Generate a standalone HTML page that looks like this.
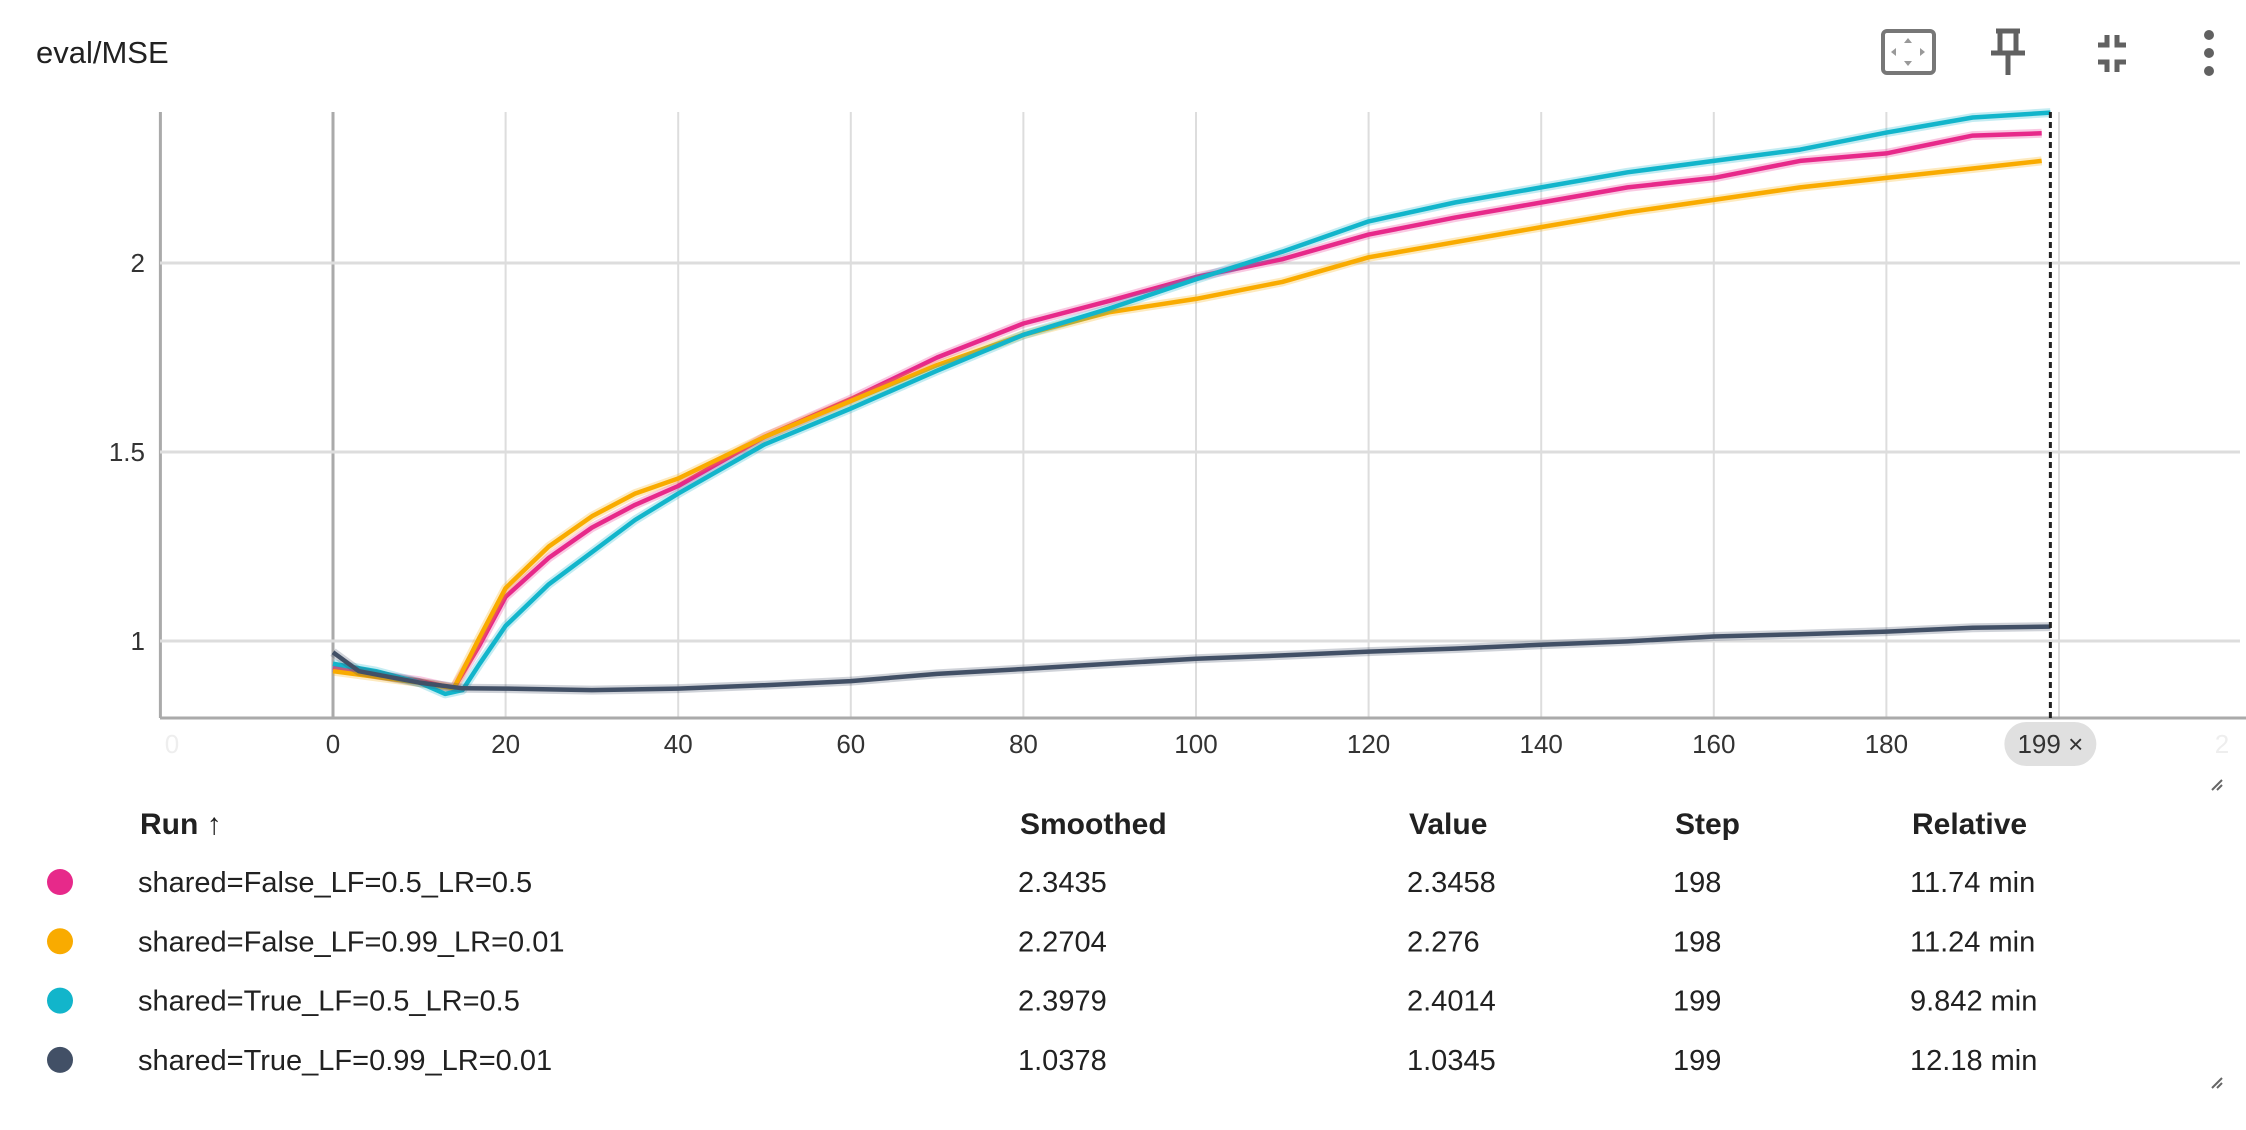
<!DOCTYPE html>
<html><head><meta charset="utf-8"><style>
body{margin:0;width:2246px;height:1130px;background:#fff;overflow:hidden;font-family:"Liberation Sans",sans-serif;color:#212121}
svg{position:absolute;left:0;top:0}
</style></head><body>
<svg id="chart" width="2246" height="1130" xmlns="http://www.w3.org/2000/svg">
<text x="36" y="63" font-size="31" fill="#212121">eval/MSE</text>
<g><rect x="1883" y="31" width="51" height="42" rx="4" fill="none" stroke="#777" stroke-width="4"/><path d="M1908 38l-4 5h8zM1908 66l-4-5h8zM1891 52l5-4v8zM1925 52l-5-4v8z" fill="#999"/></g>
<g fill="none" stroke="#616161" stroke-width="5"><path d="M1996 31h24M2000 31v20M2016 31v20M1991 53h34M2008 53v22"/></g>
<g fill="none" stroke="#616161" stroke-width="5"><path d="M2098 45h9v-10M2117 35v10h9M2098 62h9v10M2117 72v-10h9"/></g>
<g fill="#616161"><circle cx="2209" cy="35" r="5"/><circle cx="2209" cy="53" r="5"/><circle cx="2209" cy="71" r="5"/></g>
<g id="grid"></g><g id="lines"></g><g id="axes"></g>
<g font-size="30" font-weight="bold" fill="#212121">
<text x="140" y="834">Run ↑</text>
<text x="1020" y="834">Smoothed</text>
<text x="1409" y="834">Value</text>
<text x="1675" y="834">Step</text>
<text x="1912" y="834">Relative</text>
</g>
<g id="rows" font-size="29" fill="#212121"></g>
<path d="M2212 790l10-10M2217 790l5-5M2212 1088l10-10M2217 1088l5-5" stroke="#666" stroke-width="2"/>
</svg>
<script>
const NS="http://www.w3.org/2000/svg";
const steps=[0,5,10,14,17,20,25,30,35,40,50,60,70,80,90,100,110,120,130,140,150,160,170,180,190,198];
const pinkVals=[0.93,0.91,0.895,0.875,0.99,1.117,1.22,1.30,1.36,1.41,1.54,1.64,1.75,1.84,1.90,1.963,2.01,2.075,2.12,2.16,2.20,2.225,2.27,2.29,2.337,2.343];
const orangeVals=[0.92,0.905,0.89,0.875,1.01,1.14,1.25,1.33,1.39,1.43,1.54,1.635,1.73,1.81,1.87,1.905,1.95,2.015,2.055,2.095,2.134,2.167,2.2,2.225,2.25,2.27];
const cyanSteps=[0,5,10,13,15,17,20,25,30,35,40,50,60,70,80,90,100,110,120,130,140,150,160,170,180,190,199];
const cyanVals=[0.94,0.92,0.89,0.86,0.87,0.94,1.04,1.15,1.235,1.32,1.39,1.52,1.615,1.715,1.81,1.88,1.957,2.03,2.11,2.16,2.2,2.24,2.27,2.30,2.345,2.385,2.398];
const darkSteps=[0,3,10,15,20,30,40,50,60,70,80,90,100,110,120,130,140,150,160,170,180,190,199];
const darkVals=[0.97,0.92,0.89,0.875,0.874,0.87,0.874,0.883,0.894,0.913,0.926,0.94,0.953,0.962,0.972,0.98,0.99,0.999,1.012,1.018,1.025,1.035,1.038];
const xTicks=[0,20,40,60,80,100,120,140,160,180];
const yTicks=[1,1.5,2];
const runNames=["shared=False_LF=0.5_LR=0.5","shared=False_LF=0.99_LR=0.01","shared=True_LF=0.5_LR=0.5","shared=True_LF=0.99_LR=0.01"];
const smoothed=["2.3435","2.2704","2.3979","1.0378"];
const values=["2.3458","2.276","2.4014","1.0345"];
const stepCol=["198","198","199","199"];
const relative=["11.74 min","11.24 min","9.842 min","12.18 min"];
const colors=["#e7298a","#f9ab00","#12b5cb","#425066"];
const TOP=112, BOT=718;
const X=s=>333+s*8.63, Y=v=>641-(v-1)*378;
const g=document.getElementById('grid'),L=document.getElementById('lines'),A=document.getElementById('axes'),R=document.getElementById('rows');
function mk(t,a,p){const e=document.createElementNS(NS,t);for(const k in a)e.setAttribute(k,a[k]);p.appendChild(e);return e;}
[-20,...xTicks,200].forEach(s=>{const l=mk('line',{x1:X(s),x2:X(s),y1:TOP,y2:BOT,stroke:s===-20||s===0?'#aaa':'#ddd','stroke-width':s===-20||s===0?3:2},g);
});
yTicks.forEach(v=>{const l=mk('line',{x1:160,x2:2240,y1:Y(v),y2:Y(v),stroke:'#ddd','stroke-width':3},g);

const t=mk('text',{x:145,y:Y(v)+9,'text-anchor':'end','font-size':26,fill:'#333'},A);t.textContent=String(v);
});
const ax=mk('line',{x1:160,x2:2246,y1:BOT,y2:BOT,stroke:'#aaa','stroke-width':3},A);

xTicks.forEach(s=>{const t=mk('text',{x:X(s),y:753,'text-anchor':'middle','font-size':26,fill:'#333'},A);t.textContent=String(s);
});
[[-20,'0'],[220,'2']].forEach(([s,tx])=>{const t=mk('text',{x:s<0?172:2222,y:753,'text-anchor':'middle','font-size':26,fill:'#eee'},A);t.textContent=tx;
});
const series=[[steps,pinkVals],[steps,orangeVals],[cyanSteps,cyanVals],[darkSteps,darkVals]];
series.forEach(([ss,vs],i)=>{const d=ss.map((s,j)=>(j?'L':'M')+X(s).toFixed(1)+' '+Y(vs[j]).toFixed(1)).join(' ');
const raw=mk('path',{d,fill:'none',stroke:colors[i],'stroke-opacity':0.25,'stroke-width':9,'stroke-linejoin':'round'},L);

const p=mk('path',{d,fill:'none',stroke:colors[i],'stroke-width':4.5,'stroke-linejoin':'round'},L);
});
const cur=mk('line',{x1:X(199),x2:X(199),y1:TOP,y2:BOT,stroke:'#222','stroke-width':3,'stroke-dasharray':'6 4'},A);

const pill=mk('rect',{x:X(199)-46,y:722,width:92,height:44,rx:22,fill:'#e0e0e0'},A);

const pt=mk('text',{x:X(199),y:753,'text-anchor':'middle','font-size':26,fill:'#333'},A);pt.textContent='199 ×';

runNames.forEach((n,i)=>{const y=882+i*59.3;
const c=mk('circle',{cx:60,cy:y,r:13,fill:colors[i]},R);
[[138,n,'run-name'],[1018,smoothed[i],'smoothed-value'],[1407,values[i],'value'],[1673,stepCol[i],'step'],[1910,relative[i],'relative-time']].forEach(([x,tx,nm])=>{
const t=mk('text',{x,y:y+10},R);t.textContent=tx;});});
</script>
</body></html>
